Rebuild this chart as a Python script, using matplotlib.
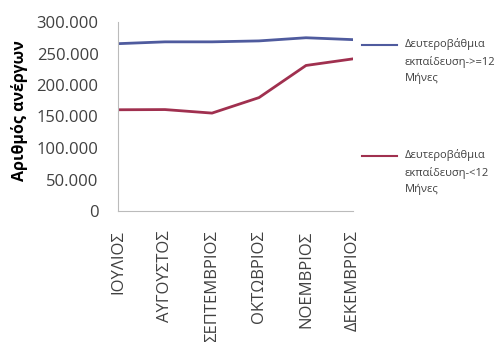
import matplotlib
matplotlib.use("Agg")
import matplotlib.pyplot as plt

plt.rcParams['font.family'] = ['Open Sans', 'DejaVu Sans']

months = ["ΙΟΥΛΙΟΣ", "ΑΥΓΟΥΣΤΟΣ", "ΣΕΠΤΕΜΒΡΙΟΣ", "ΟΚΤΩΒΡΙΟΣ", "ΝΟΕΜΒΡΙΟΣ", "ΔΕΚΕΜΒΡΙΟΣ"]
long_term = [265600, 268500, 268500, 270000, 275000, 272000]
short_term = [160700, 161000, 155400, 180000, 231000, 241500]
# leading blank lines keep the legend key level with the first text line
label_long = "\n\nΔευτεροβάθμια\nεκπαίδευση->=12\nΜήνες"
label_short = "\n\nΔευτεροβάθμια\nεκπαίδευση-<12\nΜήνες"
yticks = [0, 50000, 100000, 150000, 200000, 250000, 300000]
ytick_labels = ["0", "50.000", "100.000", "150.000", "200.000", "250.000", "300.000"]

fig = plt.figure(figsize=(5.04, 3.42), dpi=100)
ax = fig.add_axes([118 / 504, 1 - 211 / 342, 235 / 504, 189 / 342])

x = range(len(months))
ax.plot(x, long_term, color="#4f5b9e", lw=2, label=label_long)
ax.plot(x, short_term, color="#a0304f", lw=2, label=label_short)

ax.set_xlim(0, len(months) - 1)
ax.set_ylim(0, 300000)
ax.set_yticks(yticks)
ax.set_yticklabels(ytick_labels, fontsize=12, color="#404040")
ax.set_xticks(list(x))
ax.set_xticklabels(months, rotation=90, fontsize=12, color="#404040", va="top")
ax.tick_params(axis="both", length=0)
ax.tick_params(axis="x", pad=14)
ax.tick_params(axis="y", pad=14)
ax.set_ylabel("Αριθμός ανέργων", fontsize=11.5, fontweight="bold")
ax.yaxis.set_label_coords(-0.383, 0.53)

for side in ["top", "right"]:
    ax.spines[side].set_visible(False)
for side in ["left", "bottom"]:
    ax.spines[side].set_color("#bbbbbb")

leg = fig.legend(loc="upper left", bbox_to_anchor=(362 / 504, 1 - 5 / 342),
                 frameon=False, fontsize=8, handlelength=3.15, handletextpad=0.7,
                 labelspacing=2.85, borderpad=0, borderaxespad=0)
for t in leg.get_texts():
    t.set_linespacing(1.65)
    t.set_color("#404040")
for h in leg.get_lines():
    h.set_linewidth(1.5)

fig.savefig("out.png", dpi=100)
